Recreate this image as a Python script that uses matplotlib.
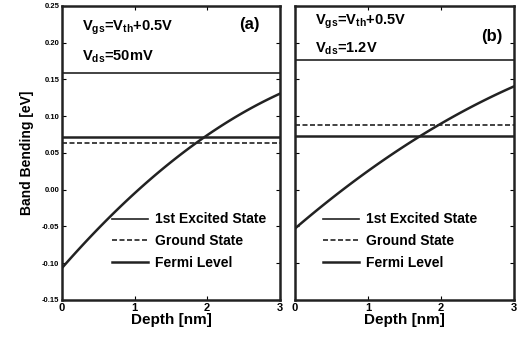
import numpy as np
import matplotlib.pyplot as plt

plt.rcParams['font.family'] = ['Liberation Sans', 'DejaVu Sans']
plt.rcParams['font.weight'] = 'bold'
plt.rcParams['axes.labelweight'] = 'bold'
plt.rcParams['mathtext.fontset'] = 'custom'
plt.rcParams['mathtext.bf'] = 'Liberation Sans:bold'
plt.rcParams['mathtext.rm'] = 'Liberation Sans:bold'
plt.rcParams['mathtext.default'] = 'bf'

depth = [0, 0.5, 1, 1.5, 2, 2.5, 3]
fermi_a = [-0.105, -0.055, -0.005, 0.038, 0.075, 0.105, 0.130]
fermi_b = [-0.052, -0.013, 0.024, 0.060, 0.091, 0.117, 0.140]
excited = [0.158, 0.176]
ground = [0.063, 0.088]
fermi_flat = [0.071, 0.073]
labels = ['(a)', '(b)']
vds = ['50mV', '1.2V']

fig = plt.figure(figsize=(5.22, 3.42), dpi=100)
ax1 = fig.add_axes([0.119, 0.123, 0.417, 0.860])
ax2 = fig.add_axes([0.565, 0.123, 0.420, 0.860])

for i, (ax, curve) in enumerate(zip([ax1, ax2], [fermi_a, fermi_b])):
    xs = np.linspace(0, 3, 100)
    # smooth curve through the read values
    p = np.polyfit(depth, curve, 2)
    ax.plot(xs, np.polyval(p, xs), color='#222222', lw=1.8)
    ax.axhline(excited[i], color='#222222', lw=1.2, label='1st Excited State')
    ax.axhline(ground[i], color='#222222', lw=1.2, ls=(0, (3, 1.5)), label='Ground State')
    ax.axhline(fermi_flat[i], color='#222222', lw=1.8, label='Fermi Level')
    ax.set_xlim(0, 3)
    ax.set_ylim(-0.15, 0.25)
    ax.set_xticks([0, 1, 2, 3])
    ax.set_yticks(np.arange(-0.15, 0.26, 0.05))
    ax.tick_params(direction='in', top=True, right=True, length=3, labelsize=8, pad=2)
    for s in ax.spines.values():
        s.set_linewidth(1.8)
        s.set_color('#222222')
    ax.set_xlabel('Depth [nm]', fontsize=11, labelpad=0)
    ax.text(0.86 if i == 0 else 0.9, 0.935 if i == 0 else 0.895, labels[i],
            transform=ax.transAxes, fontsize=12, ha='center', va='center')
    ax.text(0.09, 0.925 if i == 0 else 0.946,
            r'V$_{gs}$=V$_{th}$+0.5V', transform=ax.transAxes, fontsize=10.5, va='center')
    ax.text(0.09, 0.826 if i == 0 else 0.854,
            r'V$_{ds}$=' + vds[i], transform=ax.transAxes, fontsize=10.5, va='center')
    ax.legend(loc='upper left', bbox_to_anchor=(0.17 if i == 0 else 0.07, 0.34),
              frameon=False, fontsize=10, handlelength=2.6, handletextpad=0.5,
              labelspacing=0.55)

ax1.set_yticklabels(['%.2f' % v for v in np.arange(-0.15, 0.26, 0.05)], fontsize=5.5)
ax1.set_ylabel('Band Bending [eV]', fontsize=10, labelpad=6)
ax2.set_yticklabels([])

fig.savefig('out.png', dpi=100)
